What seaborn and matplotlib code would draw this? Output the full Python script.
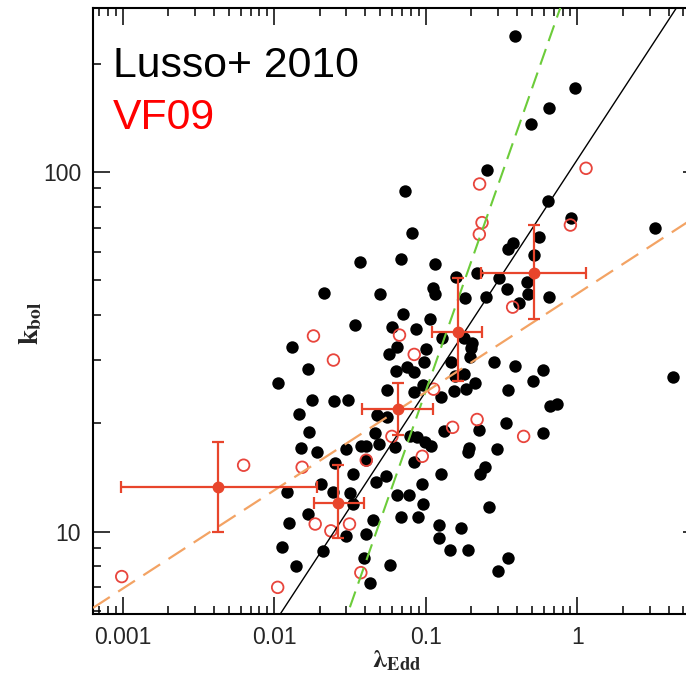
import numpy as np
import pandas as pd
import matplotlib
matplotlib.use("Agg")
import matplotlib.pyplot as plt
import seaborn as sns
from matplotlib.ticker import LogLocator, FixedLocator, FixedFormatter, NullFormatter

# ---------------- data ----------------
# Lusso+ 2010 sample (filled black)
lusso_x = [0.385, 0.970, 0.653, 0.494, 0.2535, 0.637, 0.912, 3.27, 0.0724, 0.0811,
           0.556, 0.377, 0.349, 0.515, 0.0689, 0.0366, 0.1143, 0.218, 0.159, 0.302,
           0.4656, 0.1116, 0.1143, 0.3436, 0.02148, 0.0501, 0.1823, 0.2506, 0.4728, 0.6465,
           0.4098, 0.0703, 0.1071, 0.03425, 0.0601, 0.0861, 0.128, 0.1776, 0.2018, 0.1995,
           0.0132, 0.0646, 0.0574, 0.1008, 0.0967, 0.1472, 0.1966, 0.2803, 0.385, 0.590,
           0.01669, 0.0638, 0.0752, 0.0831, 0.1565, 0.1795, 0.507, 0.01058, 0.0958, 0.2122,
           0.1842, 0.1526, 0.126, 0.0555, 0.0831, 0.349, 0.6635, 0.7345, 0.0179, 0.025,
           0.0309, 0.01469, 0.0477, 0.0555, 0.340, 0.1311, 0.2231, 0.590, 0.0171, 0.0464,
           0.079, 0.0879, 0.0992, 0.1082, 0.015, 0.0193, 0.0299, 0.0373, 0.0405, 0.0488,
           0.0629, 0.1916, 0.1887, 0.295, 0.0253, 0.0405, 0.0831, 0.0329, 0.126, 0.2265,
           0.247, 0.01213, 0.0203, 0.0244, 0.0318, 0.0471, 0.0549, 0.0646, 0.077, 0.0944,
           0.01669, 0.01262, 0.0329, 0.0448, 0.0689, 0.0892, 0.0958, 0.1215, 0.1707, 0.1215,
           0.2625, 0.0299, 0.0403, 0.01135, 0.021, 0.0394, 0.0139, 0.0583, 0.043, 0.145,
           0.1887, 0.3467, 0.2997, 4.28]
lusso_y = [239, 171, 151, 136, 101, 83.2, 74.3, 69.8, 88.5, 67.8,
           65.9, 63.6, 61.0, 58.8, 57.4, 56.3, 55.4, 52.3, 51.2, 50.8,
           49.5, 47.5, 45.7, 47.2, 46.2, 45.7, 44.7, 45.0, 45.7, 45.0,
           43.1, 40.3, 38.95, 37.6, 37.15, 36.6, 34.5, 34.5, 33.5, 32.4,
           32.7, 32.7, 31.1, 32.1, 29.7, 29.7, 30.5, 29.6, 28.9, 28.2,
           28.3, 28.0, 28.75, 27.85, 27.1, 27.4, 26.3, 25.95, 25.5, 25.85,
           25.0, 24.6, 23.7, 24.8, 24.5, 24.7, 22.4, 22.6, 23.3, 23.1,
           23.2, 21.3, 21.1, 20.9, 20.0, 19.05, 19.2, 18.8, 18.9, 18.8,
           18.4, 18.3, 17.7, 17.3, 17.1, 16.6, 16.95, 17.3, 17.3, 17.5,
           17.2, 17.05, 16.6, 16.95, 15.55, 15.8, 15.6, 14.5, 14.5, 14.5,
           15.1, 12.9, 13.6, 12.9, 12.8, 13.7, 14.3, 12.65, 12.65, 13.6,
           11.2, 10.55, 11.9, 10.8, 11.0, 11.0, 11.9, 10.45, 10.25, 9.58,
           11.7, 9.75, 9.83, 9.05, 8.84, 8.43, 8.03, 8.08, 7.22, 8.9,
           8.9, 8.47, 7.79, 26.9]

# VF09 sample (open red circles)
vf09_x = [0.000988, 0.00629, 0.01055, 0.0153, 0.01817, 0.0246, 0.01865, 0.02366, 0.0314, 0.0373,
          0.0405, 0.0598, 0.0671, 0.0839, 0.0948, 0.1126, 0.1503, 0.218, 0.442, 0.2265,
          0.235, 0.2255, 0.374, 0.899, 1.14]
vf09_y = [7.5, 15.3, 7.0, 15.1, 35.0, 30.0, 10.5, 10.05, 10.5, 7.69,
          15.8, 18.4, 35.2, 31.1, 16.2, 24.9, 19.5, 20.5, 18.4, 92.6,
          72.3, 67.1, 42.1, 71.2, 102.4]

# binned means with error bars
bin_x = [0.00425, 0.0263, 0.0656, 0.1632, 0.520]
bin_x_lo = [0.00097, 0.0184, 0.0379, 0.1099, 0.2305]
bin_x_hi = [0.0191, 0.0389, 0.1110, 0.235, 1.146]
bin_y = [13.3, 12.04, 21.9, 36.0, 52.5]
bin_y_lo = [10.0, 9.58, 18.6, 26.3, 38.9]
bin_y_hi = [17.8, 15.3, 25.9, 50.6, 71.2]

# fitted relations  log k = a + b log lambda
fit_black = (2.035, 0.645)
fit_green = (2.592, 1.201)
fit_orange = (1.662, 0.2736)

x_ticks = [0.001, 0.01, 0.1, 1]
x_ticklabels = ["0.001", "0.01", "0.1", "1"]
y_ticks = [10, 100]
y_ticklabels = ["10", "100"]

# ---------------- figure ----------------
sns.set_style("ticks")
plt.rcParams['font.family'] = ['Liberation Sans', 'DejaVu Sans']
plt.rcParams['mathtext.fontset'] = 'stix'

W, H = 686, 677
fig = plt.figure(figsize=(W / 100, H / 100), dpi=100)
L, R, T, B = 93, 700, 8, 614
ax = fig.add_axes([L / W, (H - B) / H, (R - L) / W, (B - T) / H])
ax.set_xscale("log")
ax.set_yscale("log")
xmin, xmax = 10 ** (-3 - 29.5 / 151.5), 10 ** ((700 - 577.5) / 151.5)
ymin, ymax = 10 ** 0.771, 10 ** 2.456
ax.set_xlim(xmin, xmax)
ax.set_ylim(ymin, ymax)

df_l = pd.DataFrame({"x": lusso_x, "y": lusso_y})
df_v = pd.DataFrame({"x": vf09_x, "y": vf09_y})

sns.scatterplot(data=df_l, x="x", y="y", ax=ax, s=80, color="black",
                edgecolor="black", linewidth=0, zorder=3)
sns.scatterplot(data=df_v, x="x", y="y", ax=ax, s=70, facecolor="none",
                edgecolor="#e8453c", linewidth=1.3, zorder=4)

xx = np.logspace(np.log10(xmin), np.log10(xmax), 200)
a, b = fit_black
ax.plot(xx, 10 ** (a + b * np.log10(xx)), color="black", lw=1.0, zorder=5)
a, b = fit_green
ax.plot(xx, 10 ** (a + b * np.log10(xx)), color="#6ccc3a", lw=1.5,
        dashes=(8, 4), zorder=5)
a, b = fit_orange
ax.plot(xx, 10 ** (a + b * np.log10(xx)), color="#f3a364", lw=1.6,
        dashes=(9, 4.5), zorder=5)

bx = np.array(bin_x); by = np.array(bin_y)
xerr = [bx - np.array(bin_x_lo), np.array(bin_x_hi) - bx]
yerr = [by - np.array(bin_y_lo), np.array(bin_y_hi) - by]
ax.errorbar(bx, by, xerr=xerr, yerr=yerr, fmt="o", color="#e8452c", ms=7.5,
            elinewidth=1.6, capsize=4.5, capthick=1.6, zorder=6)

# ticks
ax.xaxis.set_major_locator(FixedLocator(x_ticks))
ax.xaxis.set_major_formatter(FixedFormatter(x_ticklabels))
ax.xaxis.set_minor_locator(LogLocator(base=10, subs=np.arange(2, 10), numticks=20))
ax.xaxis.set_minor_formatter(NullFormatter())
ax.yaxis.set_major_locator(FixedLocator(y_ticks))
ax.yaxis.set_major_formatter(FixedFormatter(y_ticklabels))
ax.yaxis.set_minor_locator(LogLocator(base=10, subs=np.arange(2, 10), numticks=20))
ax.yaxis.set_minor_formatter(NullFormatter())
ax.tick_params(which="both", direction="in", top=True, right=True, width=1.1,
               color="black")
ax.tick_params(which="major", length=12, labelsize=16.5, pad=8.5)
ax.tick_params(which="minor", length=6)
for sp in ax.spines.values():
    sp.set_visible(True)
    sp.set_linewidth(1.5)
    sp.set_color("black")

ax.set_xlabel(r"$\mathbf{\lambda}_{\mathbf{Edd}}$", fontsize=19, labelpad=0)
ax.set_ylabel(r"$\mathbf{k}_{\mathbf{bol}}$", fontsize=20, labelpad=4)
ax.yaxis.set_label_coords(-0.08, 0.48)

ax.text(0.0325, 0.8856, "Lusso+ 2010", transform=ax.transAxes, fontsize=30.8,
        color="black", va="baseline", ha="left", zorder=7)
ax.text(0.0325, 0.8003, "VF09", transform=ax.transAxes, fontsize=30.8,
        color="#ff0000", va="baseline", ha="left", zorder=7)

fig.savefig("out.png", dpi=100)
